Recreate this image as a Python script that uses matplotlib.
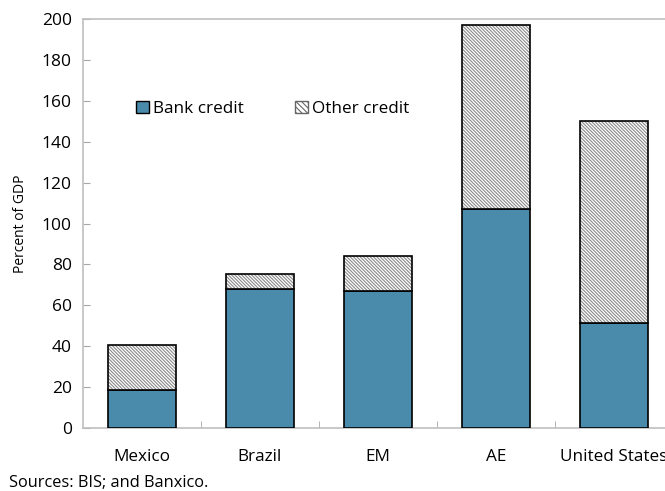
import numpy as np
import matplotlib.pyplot as plt
from matplotlib.patches import Patch

plt.rcParams['font.family'] = ['Open Sans', 'DejaVu Sans']
plt.rcParams['hatch.linewidth'] = 0.8

countries = ["Mexico", "Brazil", "EM", "AE", "United States"]
bankCredit = [18.5, 68, 67, 107, 51.5]
otherCredit = [22, 7.3, 17, 90, 98.5]

fig = plt.figure(figsize=(6.65, 4.91), dpi=100)
ax = fig.add_axes([0.1248, 0.1283, 0.887, 0.833])

x = np.arange(len(countries))
w = 0.58
bankColor = '#4a8aab'
hatchPat = '\\' * 10

ax.bar(x, bankCredit, w, color=bankColor, edgecolor='black', linewidth=1.2, zorder=3)
# hatched part: grey hatch first, black outline on top
ax.bar(x, otherCredit, w, bottom=bankCredit, color='white', edgecolor='#8a8a8a',
       hatch=hatchPat, linewidth=0, zorder=3)
ax.bar(x, otherCredit, w, bottom=bankCredit, fill=False, edgecolor='black',
       linewidth=1.2, zorder=4)

ax.set_xlim(-0.5, len(countries) - 0.5)
ax.set_ylim(0, 200)
ax.set_yticks(range(0, 201, 20))
ax.set_xticks(x)
ax.set_xticklabels(countries, fontsize=12.3)
ax.set_xticks(x[:-1] + 0.5, minor=True)
ax.tick_params(axis='x', which='major', length=0, pad=15)
ax.tick_params(axis='x', which='minor', direction='in', length=5, color='#a6a6a6')
ax.tick_params(axis='y', direction='in', length=5, color='#a6a6a6', labelsize=12.5, pad=8)

for s in ax.spines.values():
    s.set_color('#bfbfbf')
    s.set_linewidth(1.2)

ax.set_ylabel("Percent of GDP", fontsize=10)
ax.yaxis.set_label_coords(-0.093, 0.5)

handles = [Patch(facecolor=bankColor, edgecolor='black', label='Bank credit'),
           Patch(facecolor='white', edgecolor='#666666', hatch='\\' * 6, label='Other credit')]
ax.legend(handles=handles, ncol=2, frameon=False, fontsize=12.3, loc='center',
          bbox_to_anchor=(0.322, 0.78), handlelength=0.75, handleheight=0.75,
          handletextpad=0.25, columnspacing=3.0)

fig.text(0.014, 0.008, "Sources: BIS; and Banxico.", fontsize=11.8)

plt.savefig("out.png", dpi=100)
